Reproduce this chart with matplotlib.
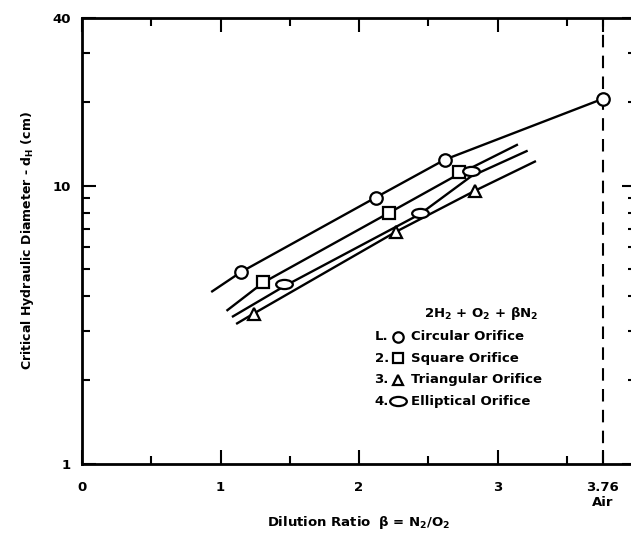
import numpy as np
import matplotlib
matplotlib.use('Agg')
import matplotlib.pyplot as plt
from matplotlib.path import Path
from matplotlib.transforms import Affine2D

plt.rcParams['font.family'] = ['DejaVu Sans']
plt.rcParams['font.weight'] = 'bold'
plt.rcParams['axes.labelweight'] = 'bold'
plt.rcParams['mathtext.default'] = 'bf'

# hand-drawn fit curves
circ_line_x = [0.94, 1.15, 2.12, 2.62, 3.76]
circ_line_y = [4.17, 4.9, 9.06, 12.4, 20.5]
sq_line_x = [1.05, 1.31, 2.22, 2.72, 3.14]
sq_line_y = [3.57, 4.49, 8.0, 11.0, 14.0]
ell_line_x = [1.09, 1.46, 2.44, 2.81, 3.21]
ell_line_y = [3.39, 4.35, 7.9, 10.8, 13.3]
tri_line_x = [1.12, 1.24, 2.27, 2.84, 3.27]
tri_line_y = [3.2, 3.47, 6.84, 9.6, 12.2]

# measured points
circ_x = [1.15, 2.12, 2.62, 3.76]
circ_y = [4.9, 9.06, 12.4, 20.5]
sq_x = [1.31, 2.22, 2.72]
sq_y = [4.49, 8.0, 11.2]
tri_x = [1.24, 2.27, 2.84]
tri_y = [3.47, 6.84, 9.6]
ell_x = [1.46, 2.44, 2.81]
ell_y = [4.42, 8.0, 11.3]

air_ratio = 3.76

legend_rows = [('L.', 'o', 'Circular Orifice'),
               ('2.', 's', 'Square Orifice'),
               ('3.', '^', 'Triangular Orifice'),
               ('4.', 'ell', 'Elliptical Orifice')]

# ellipse marker
ell_marker = Path.unit_circle().transformed(Affine2D().scale(1.0, 0.55))

fig = plt.figure(figsize=(6.31, 5.34), dpi=100)
ax = fig.add_axes([82 / 631, 70 / 534, 554 / 631, 446 / 534])
ax.set_yscale('log')
ax.set_xlim(0, 4)
ax.set_ylim(1, 40)

lw = 1.7
for lx, ly in [(circ_line_x, circ_line_y), (sq_line_x, sq_line_y),
               (ell_line_x, ell_line_y), (tri_line_x, tri_line_y)]:
    ax.plot(lx, ly, color='black', lw=lw, zorder=2)

mk = dict(linestyle='none', mfc='white', mec='black', mew=1.6, zorder=3)
ax.plot(circ_x, circ_y, marker='o', ms=9, **mk)
ax.plot(sq_x, sq_y, marker='s', ms=8.5, **mk)
ax.plot(tri_x, tri_y, marker='^', ms=9, **mk)
ax.plot(ell_x, ell_y, marker=ell_marker, ms=12, **mk)

ax.axvline(air_ratio, color='black', lw=1.5, ls=(0, (6, 4)), zorder=1)

# legend block drawn as text
ax.text(0.72, 0.338, r'2H$_2$ + O$_2$ + $\beta$N$_2$', transform=ax.transAxes,
        ha='center', va='center', fontsize=9.5)
for i, (num, m, name) in enumerate(legend_rows):
    yy = 0.285 - i * 0.048
    ax.text(0.528, yy, num, transform=ax.transAxes, ha='left', va='center', fontsize=9.5)
    marker = ell_marker if m == 'ell' else m
    ms = 12 if m == 'ell' else 7.5
    ax.plot([0.57], [yy], marker=marker, ms=ms, mfc='white', mec='black', mew=1.6,
            transform=ax.transAxes, clip_on=False)
    ax.text(0.593, yy, name, transform=ax.transAxes, ha='left', va='center', fontsize=9.5)

ax.set_xticks([0, 1, 2, 3, air_ratio, 4])
ax.set_xticklabels(['0', '1', '2', '3', '3.76\nAir', '4'], fontsize=9.5)
ax.set_xticks([0.5, 1.5, 2.5, 3.5], minor=True)
ax.set_yticks([1, 10, 40])
ax.set_yticklabels(['1', '10', '40'], fontsize=9.5)
ax.set_yticks([2, 3, 4, 5, 6, 7, 8, 9, 20, 30], minor=True)
ax.yaxis.set_minor_formatter(plt.NullFormatter())

ax.tick_params(which='both', direction='in', top=True, right=True, width=1.5)
ax.tick_params(axis='x', which='both', pad=12)
ax.tick_params(axis='y', which='both', pad=8)
ax.tick_params(which='major', length=10)
ax.tick_params(which='minor', length=6)
for s in ax.spines.values():
    s.set_linewidth(2)

ax.set_xlabel(r'Dilution Ratio  $\beta$ = N$_2$/O$_2$', fontsize=9.5, labelpad=4)
ax.set_ylabel(r'Critical Hydraulic Diameter - d$_H$ (cm)', fontsize=9, labelpad=12)

fig.savefig('out.png', dpi=100)
